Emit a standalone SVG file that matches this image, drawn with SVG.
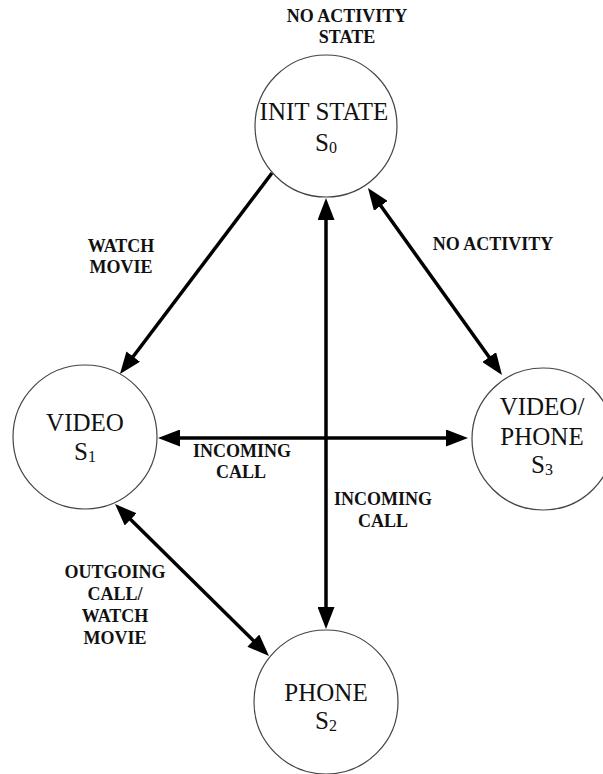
<svg xmlns="http://www.w3.org/2000/svg" width="603" height="774" viewBox="0 0 603 774">
<style>
  .node circle { fill: #fff; stroke: #444; stroke-width: 1.2; }
  .nt { font-family: "Liberation Serif", "Times New Roman", serif; font-size: 25px; fill: #111; text-anchor: middle; }
  .sub { font-size: 16px; }
  .lbl { font-family: "Liberation Serif", "Times New Roman", serif; font-size: 18px; font-weight: bold; fill: #111; text-anchor: middle; }
  .conn line { stroke: #000; stroke-width: 3.5; fill: none; }
</style>
<defs>
  <marker id="ah" markerUnits="userSpaceOnUse" markerWidth="22" markerHeight="17" refX="5" refY="8.5" orient="auto-start-reverse">
    <path d="M0,0 L22,8.5 L0,17 z" fill="#000"/>
  </marker>
</defs>
<rect width="603" height="774" fill="#fff"/>

<g id="connectors" class="conn">
  <line x1="326" y1="215" x2="326" y2="612" marker-start="url(#ah)" marker-end="url(#ah)"/>
  <line x1="175" y1="438" x2="451" y2="438" marker-start="url(#ah)" marker-end="url(#ah)"/>
  <line x1="272" y1="173" x2="130.2" y2="360.5" marker-end="url(#ah)"/>
  <line x1="377.9" y1="201.8" x2="492.1" y2="361.2" marker-start="url(#ah)" marker-end="url(#ah)"/>
  <line x1="127.1" y1="515.9" x2="256.9" y2="644.1" marker-start="url(#ah)" marker-end="url(#ah)"/>
</g>

<g id="labels">
  <text class="lbl" x="347" y="22">NO ACTIVITY</text>
  <text class="lbl" x="347" y="43">STATE</text>
  <text class="lbl" x="121" y="252">WATCH</text>
  <text class="lbl" x="121" y="273">MOVIE</text>
  <text class="lbl" x="493" y="250">NO ACTIVITY</text>
  <text class="lbl" x="242" y="457">INCOMING</text>
  <text class="lbl" x="241" y="478">CALL</text>
  <text class="lbl" x="383" y="505">INCOMING</text>
  <text class="lbl" x="383" y="527">CALL</text>
  <text class="lbl" x="115" y="578">OUTGOING</text>
  <text class="lbl" x="115" y="600">CALL/</text>
  <text class="lbl" x="115" y="622">WATCH</text>
  <text class="lbl" x="115" y="644">MOVIE</text>
</g>

<g id="S0" class="node">
  <circle cx="326" cy="126" r="71"/>
  <text class="nt" x="324" y="120">INIT STATE</text>
  <text class="nt" x="326" y="151">S<tspan class="sub" dy="2">0</tspan></text>
</g>
<g id="S1" class="node">
  <circle cx="85" cy="437" r="72"/>
  <text class="nt" x="85" y="431">VIDEO</text>
  <text class="nt" x="85" y="460">S<tspan class="sub" dy="2">1</tspan></text>
</g>
<g id="S2" class="node">
  <circle cx="326" cy="702" r="72"/>
  <text class="nt" x="326" y="701">PHONE</text>
  <text class="nt" x="326" y="729">S<tspan class="sub" dy="2">2</tspan></text>
</g>
<g id="S3" class="node">
  <circle cx="543" cy="439" r="71"/>
  <text class="nt" x="542" y="415">VIDEO/</text>
  <text class="nt" x="542" y="445">PHONE</text>
  <text class="nt" x="542" y="473">S<tspan class="sub" dy="2">3</tspan></text>
</g>
</svg>
